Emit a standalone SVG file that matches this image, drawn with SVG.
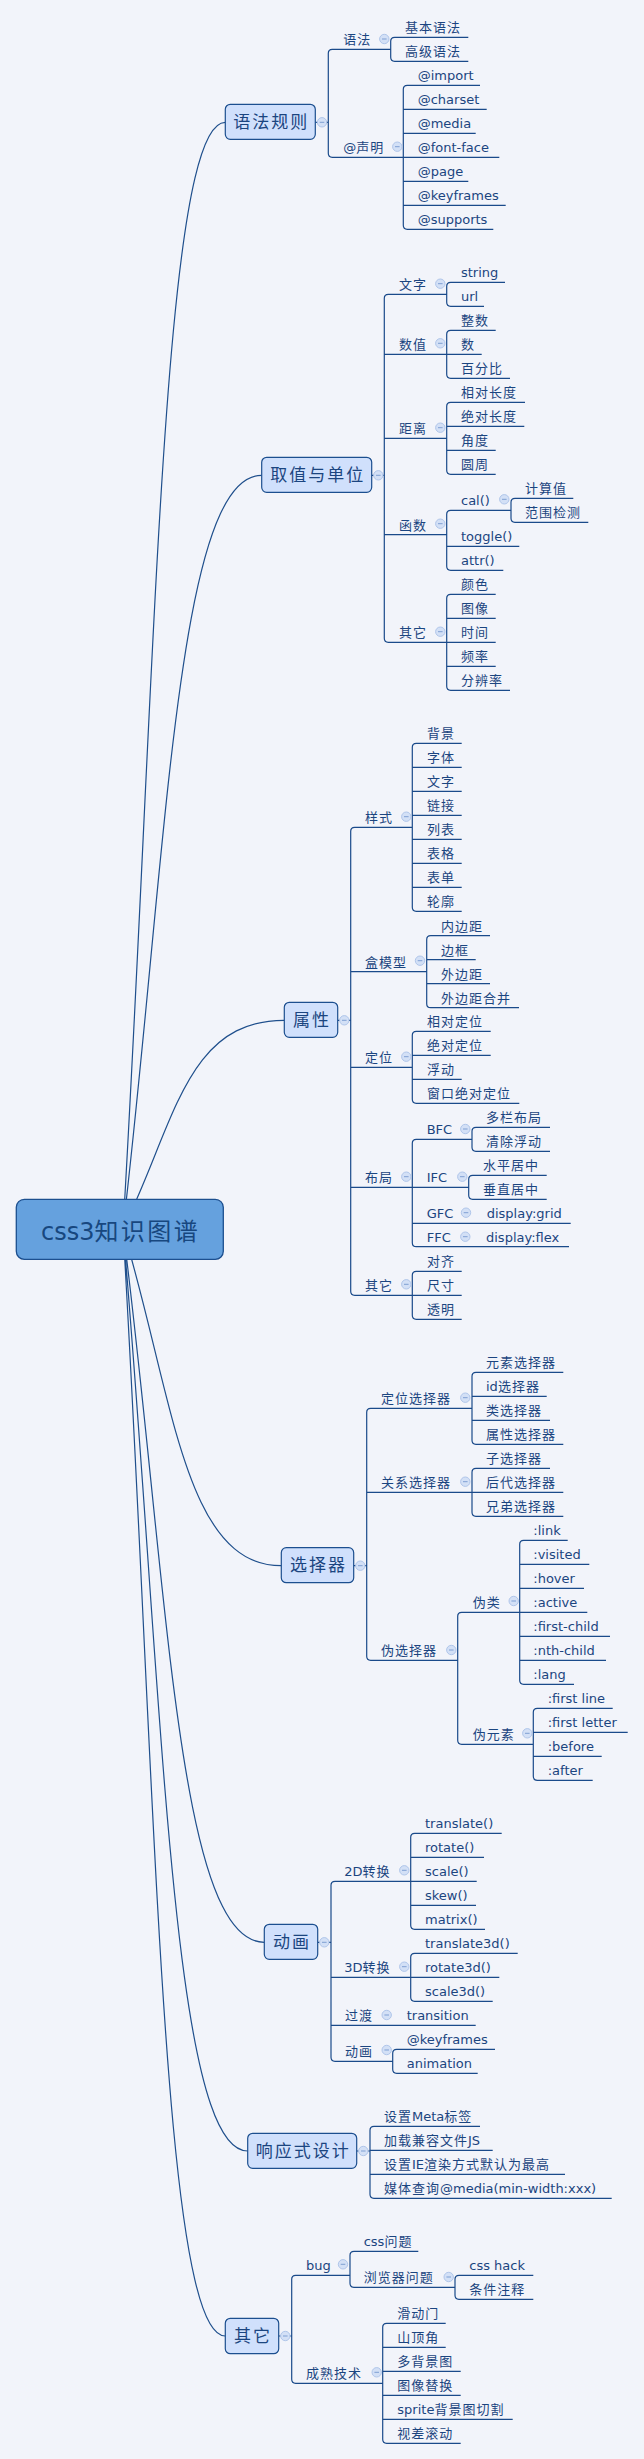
<svg xmlns="http://www.w3.org/2000/svg" width="644" height="2459" viewBox="0 0 644 2459">
<style>
.ln{fill:none;stroke:#1a4a8a;stroke-width:1.2}
.cv{fill:none;stroke:#1f4f8c;stroke-width:1.2}
text{font-family:"DejaVu Sans","Noto Sans CJK SC",sans-serif;font-size:13px;fill:#1b4580}
.z{letter-spacing:1px}
.bx{fill:#d0e0fc;stroke:#1c4f8f;stroke-width:1.2}
.bt{font-size:17px;text-anchor:middle;letter-spacing:2px}
.rb{fill:#65a1de;stroke:#1c4f8f;stroke-width:1.3}
.rt{font-size:24px;text-anchor:middle;fill:#17477f}
</style>
<defs>
<g id="mn"><circle r="4.7" fill="#d3e0f6" stroke="#b0c6ea" stroke-width="1"/><path d="M-2.3 0H2.3" stroke="#7f9fd3" stroke-width="1"/></g>
</defs>
<rect width="644" height="2459" fill="#f2f4fa"/>
<g id="connectors">
<path class="cv" d="M123 1229C155.7 675.7 162.1 122.3 225.3 122.3M123 1229C167.3 852.2 176.3 475.3 261.7 475.3M123 1229C174.6 1124.7 185.1 1020.3 284.3 1020.3M123 1229C173.6 1397.4 183.9 1565.7 281.3 1565.7M123 1229C168.2 1585.7 177.3 1942.3 264.3 1942.3M123 1229C162.9 1690 170.8 2151 247.7 2151M123 1229C155.7 1782.5 162.1 2336 225.3 2336"/>
<path class="ln" d="M315.3 122.3H328.3M332.3 49.3Q328.3 49.3 328.3 53.3V153.3Q328.3 157.3 332.3 157.3M332.3 49.3H390.7M332.3 157.3H403.3M394.7 37.3Q390.7 37.3 390.7 41.3V57.3Q390.7 61.3 394.7 61.3M394.7 37.3H468.3M394.7 61.3H468.3M407.3 85.3Q403.3 85.3 403.3 89.3V225.3Q403.3 229.3 407.3 229.3M407.3 85.3H480M403.3 109.3H486.7M403.3 133.3H475.7M403.3 157.3H499.3M403.3 181.3H468.3M403.3 205.3H505.7M407.3 229.3H493.3"/>
<path class="ln" d="M371.7 475.3H384.3M388.3 294.3Q384.3 294.3 384.3 298.3V638.3Q384.3 642.3 388.3 642.3M388.3 294.3H446.7M384.3 354.3H481.7M384.3 438.3H446.7M384.3 534.7H446.7M388.3 642.3H495.7M450.7 282.3Q446.7 282.3 446.7 286.3V302.3Q446.7 306.3 450.7 306.3M450.7 282.3H505M450.7 306.3H484M450.7 330.3Q446.7 330.3 446.7 334.3V374.3Q446.7 378.3 450.7 378.3M450.7 330.3H495.7M450.7 378.3H510M450.7 402.3Q446.7 402.3 446.7 406.3V470.3Q446.7 474.3 450.7 474.3M450.7 402.3H525M446.7 426.3H524.3M446.7 450.3H495.7M450.7 474.3H495.7M450.7 510.3Q446.7 510.3 446.7 514.3V566.3Q446.7 570.3 450.7 570.3M450.7 510.3H511M446.7 546.3H519.3M450.7 570.3H503.3M515 498.3Q511 498.3 511 502.3V518.3Q511 522.3 515 522.3M515 498.3H573.3M515 522.3H588.3M450.7 594.3Q446.7 594.3 446.7 598.3V686.3Q446.7 690.3 450.7 690.3M450.7 594.3H495.7M446.7 618.3H495.7M446.7 666.3H495.7M450.7 690.3H510"/>
<path class="ln" d="M337.7 1020.3H350.7M354.7 827.3Q350.7 827.3 350.7 831.3V1291.3Q350.7 1295.3 354.7 1295.3M354.7 827.3H412.3M350.7 971.7H426.7M350.7 1067.3H412.3M350.7 1187.3H468.7M354.7 1295.3H461.7M416.3 743.3Q412.3 743.3 412.3 747.3V907.3Q412.3 911.3 416.3 911.3M416.3 743.3H461.7M412.3 767.3H461.7M412.3 791.3H461.7M412.3 815.3H461.7M412.3 839.3H461.7M412.3 863.3H461.7M412.3 887.3H461.7M416.3 911.3H461.7M430.7 935.7Q426.7 935.7 426.7 939.7V1003.7Q426.7 1007.7 430.7 1007.7M430.7 935.7H490M426.7 959.7H475.7M426.7 983.7H490M430.7 1007.7H519M416.3 1031.3Q412.3 1031.3 412.3 1035.3V1099.3Q412.3 1103.3 416.3 1103.3M416.3 1031.3H490.7M412.3 1055.3H490.7M412.3 1079.3H461.7M416.3 1103.3H519.3M416.3 1139.3Q412.3 1139.3 412.3 1143.3V1242.7Q412.3 1246.7 416.3 1246.7M416.3 1139.3H472M412.3 1223.3H570.7M416.3 1246.7H569M476 1127.3Q472 1127.3 472 1131.3V1147.3Q472 1151.3 476 1151.3M476 1127.3H550M476 1151.3H550M472.7 1175.3Q468.7 1175.3 468.7 1179.3V1195.3Q468.7 1199.3 472.7 1199.3M472.7 1175.3H546.7M472.7 1199.3H546.7M416.3 1271.3Q412.3 1271.3 412.3 1275.3V1315.3Q412.3 1319.3 416.3 1319.3M416.3 1271.3H461.7M416.3 1319.3H461.7"/>
<path class="ln" d="M353.7 1565.7H366.7M370.7 1408.3Q366.7 1408.3 366.7 1412.3V1656.3Q366.7 1660.3 370.7 1660.3M370.7 1408.3H472M366.7 1492.3H563.3M370.7 1660.3H457.7M476 1372.3Q472 1372.3 472 1376.3V1440.3Q472 1444.3 476 1444.3M476 1372.3H563.3M472 1396.3H546.7M472 1420.3H550M476 1444.3H563.3M476 1468.3Q472 1468.3 472 1472.3V1512.3Q472 1516.3 476 1516.3M476 1468.3H550M476 1516.3H563.3M461.7 1612.3Q457.7 1612.3 457.7 1616.3V1740.3Q457.7 1744.3 461.7 1744.3M461.7 1612.3H519.7M461.7 1744.3H533.3M523.7 1540.3Q519.7 1540.3 519.7 1544.3V1680.3Q519.7 1684.3 523.7 1684.3M523.7 1540.3H567.7M519.7 1564.3H589.3M519.7 1588.3H584M519.7 1612.3H587.3M519.7 1636.3H610M519.7 1660.3H606M523.7 1684.3H574M537.3 1708.3Q533.3 1708.3 533.3 1712.3V1776.3Q533.3 1780.3 537.3 1780.3M537.3 1708.3H612.7M533.3 1732.3H627.7M533.3 1756.3H601.7M537.3 1780.3H592.7"/>
<path class="ln" d="M317.7 1942.3H331M335 1881.3Q331 1881.3 331 1885.3V2057.3Q331 2061.3 335 2061.3M335 1881.3H476.7M331 1977.3H499.3M331 2025.3H475.7M335 2061.3H392.7M414.7 1833.3Q410.7 1833.3 410.7 1837.3V1925.3Q410.7 1929.3 414.7 1929.3M414.7 1833.3H501.7M410.7 1857.3H484M410.7 1905.3H476M414.7 1929.3H485M414.7 1953.3Q410.7 1953.3 410.7 1957.3V1997.3Q410.7 2001.3 414.7 2001.3M414.7 1953.3H517.7M414.7 2001.3H492.7M396.7 2049.3Q392.7 2049.3 392.7 2053.3V2069.3Q392.7 2073.3 396.7 2073.3M396.7 2049.3H495M396.7 2073.3H477.7"/>
<path class="ln" d="M356.7 2151H370M374 2126.3Q370 2126.3 370 2130.3V2194.3Q370 2198.3 374 2198.3M374 2126.3H480M370 2150.3H492.7M370 2174.3H565M374 2198.3H611.7"/>
<path class="ln" d="M278.7 2336H291.7M295.7 2275.3Q291.7 2275.3 291.7 2279.3V2379.3Q291.7 2383.3 295.7 2383.3M295.7 2275.3H350M295.7 2383.3H382.7M354 2251.3Q350 2251.3 350 2255.3V2283.3Q350 2287.3 354 2287.3M354 2251.3H418.3M354 2287.3H455M459 2275.3Q455 2275.3 455 2279.3V2295.3Q455 2299.3 459 2299.3M459 2275.3H533.3M459 2299.3H533.3M386.7 2323.3Q382.7 2323.3 382.7 2327.3V2439.3Q382.7 2443.3 386.7 2443.3M386.7 2323.3H445.7M382.7 2347.3H445.7M382.7 2371.3H460.7M382.7 2395.3H460.7M382.7 2419.3H512.7M386.7 2443.3H460.7"/>
</g>
<g id="root"><rect class="rb" x="16.3" y="1199.3" width="207" height="60" rx="8"/><text class="rt" x="120.5" y="1240">css3<tspan letter-spacing="2.4">知识图谱</tspan></text></g>
<g id="n1"><rect class="bx" x="225.3" y="104.3" width="90" height="35" rx="5"/><text class="bt" x="271.3" y="127.8">语法规则</text><use href="#mn" x="322" y="122.3"/></g>
<g id="n1-1"><text class="z" x="343.3" y="44.3">语法</text><use href="#mn" x="384.3" y="39"/></g>
<g id="n1-1-1"><text class="z" x="405" y="32.3">基本语法</text></g>
<g id="n1-1-2"><text class="z" x="405" y="56.3">高级语法</text></g>
<g id="n1-2"><text x="343.3" y="152.3">@<tspan class="z">声明</tspan></text><use href="#mn" x="397.3" y="146.7"/></g>
<g id="n1-2-1"><text x="417.7" y="80.3">@import</text></g>
<g id="n1-2-2"><text x="417.7" y="104.3">@charset</text></g>
<g id="n1-2-3"><text x="417.7" y="128.3">@media</text></g>
<g id="n1-2-4"><text x="417.7" y="152.3">@font-face</text></g>
<g id="n1-2-5"><text x="417.7" y="176.3">@page</text></g>
<g id="n1-2-6"><text x="417.7" y="200.3">@keyframes</text></g>
<g id="n1-2-7"><text x="417.7" y="224.3">@supports</text></g>
<g id="n2"><rect class="bx" x="261.7" y="457.3" width="110" height="35" rx="5"/><text class="bt" x="317.7" y="480.8">取值与单位</text><use href="#mn" x="378.3" y="475.3"/></g>
<g id="n2-1"><text class="z" x="399" y="289.3">文字</text><use href="#mn" x="440.3" y="283.7"/></g>
<g id="n2-1-1"><text x="461" y="277.3">string</text></g>
<g id="n2-1-2"><text x="461" y="301.3">url</text></g>
<g id="n2-2"><text class="z" x="399" y="349.3">数值</text><use href="#mn" x="440.3" y="343.3"/></g>
<g id="n2-2-1"><text class="z" x="461" y="325.3">整数</text></g>
<g id="n2-2-2"><text class="z" x="461" y="349.3">数</text></g>
<g id="n2-2-3"><text class="z" x="461" y="373.3">百分比</text></g>
<g id="n2-3"><text class="z" x="399" y="433.3">距离</text><use href="#mn" x="440.3" y="427.7"/></g>
<g id="n2-3-1"><text class="z" x="461" y="397.3">相对长度</text></g>
<g id="n2-3-2"><text class="z" x="461" y="421.3">绝对长度</text></g>
<g id="n2-3-3"><text class="z" x="461" y="445.3">角度</text></g>
<g id="n2-3-4"><text class="z" x="461" y="469.3">圆周</text></g>
<g id="n2-4"><text class="z" x="399" y="529.7">函数</text><use href="#mn" x="440.3" y="523.7"/></g>
<g id="n2-4-1"><text x="461" y="505.3">cal()</text><use href="#mn" x="504.3" y="499.3"/></g>
<g id="n2-4-1-1"><text class="z" x="525" y="493.3">计算值</text></g>
<g id="n2-4-1-2"><text class="z" x="525" y="517.3">范围检测</text></g>
<g id="n2-4-2"><text x="461" y="541.3">toggle()</text></g>
<g id="n2-4-3"><text x="461" y="565.3">attr()</text></g>
<g id="n2-5"><text class="z" x="399" y="637.3">其它</text><use href="#mn" x="440.3" y="631.7"/></g>
<g id="n2-5-1"><text class="z" x="461" y="589.3">颜色</text></g>
<g id="n2-5-2"><text class="z" x="461" y="613.3">图像</text></g>
<g id="n2-5-3"><text class="z" x="461" y="637.3">时间</text></g>
<g id="n2-5-4"><text class="z" x="461" y="661.3">频率</text></g>
<g id="n2-5-5"><text class="z" x="461" y="685.3">分辨率</text></g>
<g id="n3"><rect class="bx" x="284.3" y="1002.3" width="53.4" height="35" rx="5"/><text class="bt" x="312" y="1025.8">属性</text><use href="#mn" x="344.3" y="1020.3"/></g>
<g id="n3-1"><text class="z" x="365" y="822.3">样式</text><use href="#mn" x="406.3" y="816.7"/></g>
<g id="n3-1-1"><text class="z" x="427" y="738.3">背景</text></g>
<g id="n3-1-2"><text class="z" x="427" y="762.3">字体</text></g>
<g id="n3-1-3"><text class="z" x="427" y="786.3">文字</text></g>
<g id="n3-1-4"><text class="z" x="427" y="810.3">链接</text></g>
<g id="n3-1-5"><text class="z" x="427" y="834.3">列表</text></g>
<g id="n3-1-6"><text class="z" x="427" y="858.3">表格</text></g>
<g id="n3-1-7"><text class="z" x="427" y="882.3">表单</text></g>
<g id="n3-1-8"><text class="z" x="427" y="906.3">轮廓</text></g>
<g id="n3-2"><text class="z" x="365" y="966.7">盒模型</text><use href="#mn" x="420" y="960.7"/></g>
<g id="n3-2-1"><text class="z" x="441" y="930.7">内边距</text></g>
<g id="n3-2-2"><text class="z" x="441" y="954.7">边框</text></g>
<g id="n3-2-3"><text class="z" x="441" y="978.7">外边距</text></g>
<g id="n3-2-4"><text class="z" x="441" y="1002.7">外边距合并</text></g>
<g id="n3-3"><text class="z" x="365" y="1062.3">定位</text><use href="#mn" x="406.3" y="1056.7"/></g>
<g id="n3-3-1"><text class="z" x="427" y="1026.3">相对定位</text></g>
<g id="n3-3-2"><text class="z" x="427" y="1050.3">绝对定位</text></g>
<g id="n3-3-3"><text class="z" x="427" y="1074.3">浮动</text></g>
<g id="n3-3-4"><text class="z" x="427" y="1098.3">窗口绝对定位</text></g>
<g id="n3-4"><text class="z" x="365" y="1182.3">布局</text><use href="#mn" x="406.3" y="1176.7"/></g>
<g id="n3-4-1"><text x="426.7" y="1134.3">BFC</text><use href="#mn" x="465.3" y="1129"/></g>
<g id="n3-4-1-1"><text class="z" x="486" y="1122.3">多栏布局</text></g>
<g id="n3-4-1-2"><text class="z" x="486" y="1146.3">清除浮动</text></g>
<g id="n3-4-2"><text x="426.7" y="1182.3">IFC</text><use href="#mn" x="462.3" y="1176.7"/></g>
<g id="n3-4-2-1"><text class="z" x="483" y="1170.3">水平居中</text></g>
<g id="n3-4-2-2"><text class="z" x="483" y="1194.3">垂直居中</text></g>
<g id="n3-4-3"><text x="426.7" y="1218.3">GFC</text><use href="#mn" x="466" y="1212.7"/></g>
<g id="n3-4-3-1"><text x="486.7" y="1218.3">display:grid</text></g>
<g id="n3-4-4"><text x="426.7" y="1241.7">FFC</text><use href="#mn" x="465.3" y="1236.7"/></g>
<g id="n3-4-4-1"><text x="486" y="1241.7">display:flex</text></g>
<g id="n3-5"><text class="z" x="365" y="1290.3">其它</text><use href="#mn" x="406.3" y="1284.3"/></g>
<g id="n3-5-1"><text class="z" x="427" y="1266.3">对齐</text></g>
<g id="n3-5-2"><text class="z" x="427" y="1290.3">尺寸</text></g>
<g id="n3-5-3"><text class="z" x="427" y="1314.3">透明</text></g>
<g id="n4"><rect class="bx" x="281.3" y="1547.7" width="72.4" height="35" rx="5"/><text class="bt" x="318.5" y="1571.2">选择器</text><use href="#mn" x="360.3" y="1565.7"/></g>
<g id="n4-1"><text class="z" x="381" y="1403.3">定位选择器</text><use href="#mn" x="465.3" y="1397.7"/></g>
<g id="n4-1-1"><text class="z" x="486" y="1367.3">元素选择器</text></g>
<g id="n4-1-2"><text x="486" y="1391.3">id<tspan class="z">选择器</tspan></text></g>
<g id="n4-1-3"><text class="z" x="486" y="1415.3">类选择器</text></g>
<g id="n4-1-4"><text class="z" x="486" y="1439.3">属性选择器</text></g>
<g id="n4-2"><text class="z" x="381" y="1487.3">关系选择器</text><use href="#mn" x="465.3" y="1481.7"/></g>
<g id="n4-2-1"><text class="z" x="486" y="1463.3">子选择器</text></g>
<g id="n4-2-2"><text class="z" x="486" y="1487.3">后代选择器</text></g>
<g id="n4-2-3"><text class="z" x="486" y="1511.3">兄弟选择器</text></g>
<g id="n4-3"><text class="z" x="381" y="1655.3">伪选择器</text><use href="#mn" x="451.3" y="1650"/></g>
<g id="n4-3-1"><text class="z" x="472.7" y="1607.3">伪类</text><use href="#mn" x="513.7" y="1601"/></g>
<g id="n4-3-1-1"><text x="533.3" y="1535.3">:link</text></g>
<g id="n4-3-1-2"><text x="533.3" y="1559.3">:visited</text></g>
<g id="n4-3-1-3"><text x="533.3" y="1583.3">:hover</text></g>
<g id="n4-3-1-4"><text x="533.3" y="1607.3">:active</text></g>
<g id="n4-3-1-5"><text x="533.3" y="1631.3">:first-child</text></g>
<g id="n4-3-1-6"><text x="533.3" y="1655.3">:nth-child</text></g>
<g id="n4-3-1-7"><text x="533.3" y="1679.3">:lang</text></g>
<g id="n4-3-2"><text class="z" x="472.7" y="1739.3">伪元素</text><use href="#mn" x="527.3" y="1733.3"/></g>
<g id="n4-3-2-1"><text x="547.7" y="1703.3">:first line</text></g>
<g id="n4-3-2-2"><text x="547.7" y="1727.3">:first letter</text></g>
<g id="n4-3-2-3"><text x="547.7" y="1751.3">:before</text></g>
<g id="n4-3-2-4"><text x="547.7" y="1775.3">:after</text></g>
<g id="n5"><rect class="bx" x="264.3" y="1924.3" width="53.4" height="35" rx="5"/><text class="bt" x="292" y="1947.8">动画</text><use href="#mn" x="324.3" y="1942.3"/></g>
<g id="n5-1"><text x="344.3" y="1876.3">2D<tspan class="z">转换</tspan></text><use href="#mn" x="404.3" y="1870.3"/></g>
<g id="n5-1-1"><text x="425" y="1828.3">translate()</text></g>
<g id="n5-1-2"><text x="425" y="1852.3">rotate()</text></g>
<g id="n5-1-3"><text x="425" y="1876.3">scale()</text></g>
<g id="n5-1-4"><text x="425" y="1900.3">skew()</text></g>
<g id="n5-1-5"><text x="425" y="1924.3">matrix()</text></g>
<g id="n5-2"><text x="344.3" y="1972.3">3D<tspan class="z">转换</tspan></text><use href="#mn" x="404.3" y="1966.7"/></g>
<g id="n5-2-1"><text x="425" y="1948.3">translate3d()</text></g>
<g id="n5-2-2"><text x="425" y="1972.3">rotate3d()</text></g>
<g id="n5-2-3"><text x="425" y="1996.3">scale3d()</text></g>
<g id="n5-3"><text class="z" x="345" y="2020.3">过渡</text><use href="#mn" x="386.7" y="2015"/></g>
<g id="n5-3-1"><text x="406.7" y="2020.3">transition</text></g>
<g id="n5-4"><text class="z" x="345" y="2056.3">动画</text><use href="#mn" x="386.7" y="2050"/></g>
<g id="n5-4-1"><text x="406.7" y="2044.3">@keyframes</text></g>
<g id="n5-4-2"><text x="406.7" y="2068.3">animation</text></g>
<g id="n6"><rect class="bx" x="247.7" y="2133.3" width="109" height="35" rx="5"/><text class="bt" x="303.2" y="2156.8">响应式设计</text><use href="#mn" x="363.3" y="2151"/></g>
<g id="n6-1"><text x="384" y="2121.3"><tspan class="z">设置</tspan>Meta<tspan class="z">标签</tspan></text></g>
<g id="n6-2"><text x="384" y="2145.3"><tspan class="z">加载兼容文件</tspan>JS</text></g>
<g id="n6-3"><text x="384" y="2169.3"><tspan class="z">设置</tspan>IE<tspan class="z">渲染方式默认为最高</tspan></text></g>
<g id="n6-4"><text x="384" y="2193.3"><tspan class="z">媒体查询</tspan>@media(min-width:xxx)</text></g>
<g id="n7"><rect class="bx" x="225.3" y="2318.3" width="53.4" height="35.4" rx="5"/><text class="bt" x="253" y="2342">其它</text><use href="#mn" x="285.3" y="2336"/></g>
<g id="n7-1"><text x="306" y="2270.3">bug</text><use href="#mn" x="343" y="2264.3"/></g>
<g id="n7-1-1"><text x="363.7" y="2246.3">css<tspan class="z">问题</tspan></text></g>
<g id="n7-1-2"><text class="z" x="363.7" y="2282.3">浏览器问题</text><use href="#mn" x="448.7" y="2277"/></g>
<g id="n7-1-2-1"><text x="469.3" y="2270.3">css hack</text></g>
<g id="n7-1-2-2"><text class="z" x="469.3" y="2294.3">条件注释</text></g>
<g id="n7-2"><text class="z" x="306" y="2378.3">成熟技术</text><use href="#mn" x="376.7" y="2372.3"/></g>
<g id="n7-2-1"><text class="z" x="397.3" y="2318.3">滑动门</text></g>
<g id="n7-2-2"><text class="z" x="397.3" y="2342.3">山顶角</text></g>
<g id="n7-2-3"><text class="z" x="397.3" y="2366.3">多背景图</text></g>
<g id="n7-2-4"><text class="z" x="397.3" y="2390.3">图像替换</text></g>
<g id="n7-2-5"><text x="397.3" y="2414.3">sprite<tspan class="z">背景图切割</tspan></text></g>
<g id="n7-2-6"><text class="z" x="397.3" y="2438.3">视差滚动</text></g>
</svg>
